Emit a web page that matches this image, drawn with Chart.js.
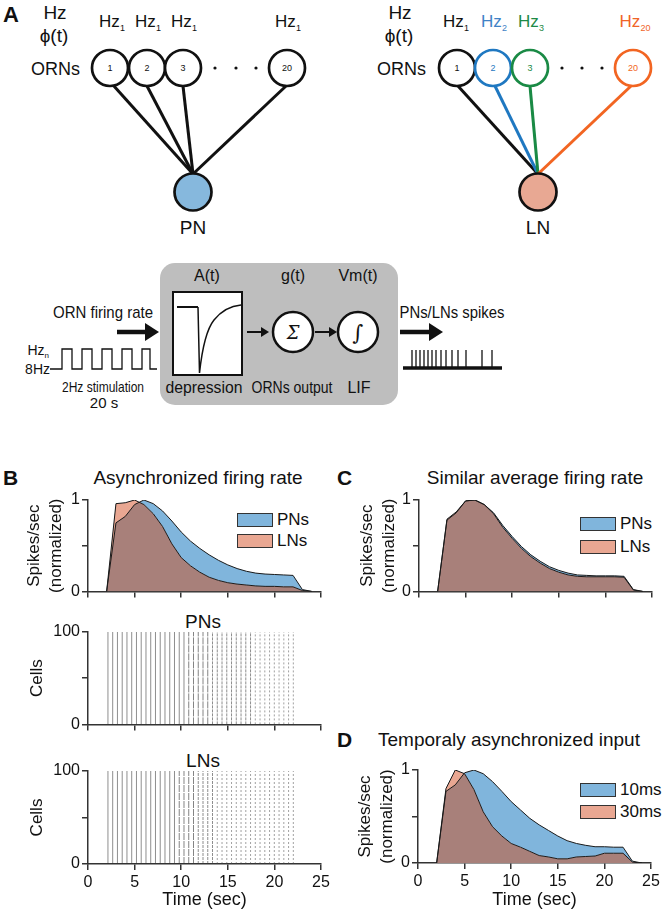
<!DOCTYPE html>
<html>
<head>
<meta charset="utf-8">
<script src="https://cdn.jsdelivr.net/npm/chart.js@4.4.1/dist/chart.umd.min.js"></script>
<style>
  body { margin: 0; background: #fff; }
  #page { position: relative; width: 666px; height: 916px; overflow: hidden; font-family: "Liberation Sans", Arial, sans-serif; color: #111; }
  .abs { position: absolute; white-space: nowrap; }
  .letter { font-weight: bold; font-size: 21px; }
  .ptitle { font-size: 19px; transform: translateX(-50%); }
  .leg { position: absolute; font-size: 17px; }
  .leg span.box { position: absolute; left: 0; width: 34px; height: 12px; border: 1px solid #333; }
  .leg span.lab { position: absolute; left: 40px; top: -3px; }
  canvas { position: absolute; }
</style>
</head>
<body>
<div id="page">

<!-- panel A : schematic -->
<svg width="666" height="415" style="position:absolute;left:0;top:0" font-family="Liberation Sans, Arial, sans-serif" fill="#111">
  <text x="3" y="22" font-size="22" font-weight="bold">A</text>
  <text x="55" y="19" font-size="19" text-anchor="middle">Hz</text>
  <text x="54" y="42" font-size="19" text-anchor="middle">ϕ(t)</text>
  <text x="80" y="75" font-size="18" text-anchor="end">ORNs</text>

  <text x="112" y="27" font-size="17" text-anchor="middle">Hz<tspan font-size="9" dy="4">1</tspan></text>
  <text x="148" y="27" font-size="17" text-anchor="middle">Hz<tspan font-size="9" dy="4">1</tspan></text>
  <text x="184" y="27" font-size="17" text-anchor="middle">Hz<tspan font-size="9" dy="4">1</tspan></text>
  <text x="288" y="27" font-size="17" text-anchor="middle">Hz<tspan font-size="9" dy="4">1</tspan></text>

  <g stroke="#111" stroke-width="3" fill="none">
    <line x1="113" y1="85" x2="193" y2="174"/>
    <line x1="147" y1="86" x2="193" y2="174"/>
    <line x1="183" y1="86" x2="193" y2="174"/>
    <line x1="286" y1="86" x2="193" y2="174"/>
  </g>
  <g stroke="#111" stroke-width="2.7" fill="#fff">
    <circle cx="110" cy="68" r="18"/>
    <circle cx="147" cy="68" r="18"/>
    <circle cx="183" cy="68" r="18"/>
    <circle cx="287" cy="68" r="18"/>
    <circle cx="193" cy="192" r="18.5" fill="#86b8dd"/>
  </g>
  <g font-size="9" text-anchor="middle">
    <text x="110" y="71">1</text><text x="147" y="71">2</text><text x="183" y="71">3</text><text x="287" y="71">20</text>
  </g>
  <circle cx="215" cy="68" r="1.6"/><circle cx="236" cy="68" r="1.6"/><circle cx="256" cy="68" r="1.6"/>
  <text x="193" y="234" font-size="19" text-anchor="middle">PN</text>

  <text x="400" y="19" font-size="19" text-anchor="middle">Hz</text>
  <text x="399" y="42" font-size="19" text-anchor="middle">ϕ(t)</text>
  <text x="426" y="75" font-size="18" text-anchor="end">ORNs</text>

  <text x="456" y="27" font-size="17" text-anchor="middle">Hz<tspan font-size="9" dy="4">1</tspan></text>
  <text x="494" y="27" font-size="17" text-anchor="middle" fill="#3f82c6">Hz<tspan font-size="9" dy="4">2</tspan></text>
  <text x="531" y="27" font-size="17" text-anchor="middle" fill="#1e8a46">Hz<tspan font-size="9" dy="4">3</tspan></text>
  <text x="635" y="27" font-size="17" text-anchor="middle" fill="#f06428">Hz<tspan font-size="9" dy="4">20</tspan></text>

  <g stroke-width="3" fill="none">
    <line x1="458" y1="86" x2="538" y2="174" stroke="#111"/>
    <line x1="495" y1="86" x2="538" y2="174" stroke="#1f78c1"/>
    <line x1="530" y1="86" x2="538" y2="174" stroke="#1a8a45"/>
    <line x1="631" y1="86" x2="538" y2="174" stroke="#f26522"/>
  </g>
  <g stroke-width="2.7" fill="#fff">
    <circle cx="457" cy="68" r="18" stroke="#111"/>
    <circle cx="493" cy="68" r="18" stroke="#1f78c1"/>
    <circle cx="530" cy="68" r="18" stroke="#1a8a45"/>
    <circle cx="633" cy="68" r="18" stroke="#f26522"/>
    <circle cx="538" cy="192" r="18.5" fill="#e8a893" stroke="#111"/>
  </g>
  <g font-size="9" text-anchor="middle">
    <text x="457" y="71">1</text>
    <text x="493" y="71" fill="#1f78c1">2</text>
    <text x="530" y="71" fill="#1a8a45">3</text>
    <text x="633" y="71" fill="#f26522">20</text>
  </g>
  <circle cx="562" cy="68" r="1.6"/><circle cx="582" cy="68" r="1.6"/><circle cx="602" cy="68" r="1.6"/>
  <text x="538" y="234" font-size="19" text-anchor="middle">LN</text>

  <!-- model box -->
  <rect x="160" y="263" width="238" height="142" rx="15" fill="#bebebe"/>
  <g font-size="16" text-anchor="middle">
    <text x="207" y="281">A(t)</text>
    <text x="293" y="281">g(t)</text>
    <text x="358" y="281">Vm(t)</text>
    <text x="204" y="393" textLength="77" lengthAdjust="spacingAndGlyphs">depression</text>
    <text x="292" y="393" textLength="81" lengthAdjust="spacingAndGlyphs">ORNs output</text>
    <text x="359" y="393">LIF</text>
  </g>
  <rect x="173" y="292" width="69" height="83" fill="#fff" stroke="#111" stroke-width="2"/>
  <path d="M177 307 L198 307" fill="none" stroke="#111" stroke-width="2"/>
  <path d="M198 307 L199.5 373 C202 350, 206 330, 214 320 C222 310, 230 306, 241 305" fill="none" stroke="#111" stroke-width="1.5"/>
  <g stroke="#111" stroke-width="2">
    <line x1="247" y1="332" x2="263" y2="332"/>
    <line x1="315" y1="332" x2="331" y2="332"/>
  </g>
  <polygon points="261,327 269,332 261,337"/>
  <polygon points="329,327 337,332 329,337"/>
  <circle cx="293" cy="332" r="20" fill="#fff" stroke="#111" stroke-width="2.5"/>
  <circle cx="358" cy="332" r="20" fill="#fff" stroke="#111" stroke-width="2.5"/>
  <text x="293" y="339" font-size="18" font-style="italic" font-family="DejaVu Serif" text-anchor="middle">Σ</text>
  <text x="358" y="340" font-size="21" font-family="DejaVu Serif" text-anchor="middle">∫</text>

  <!-- input side -->
  <text x="103" y="318" font-size="17" text-anchor="middle" textLength="100" lengthAdjust="spacingAndGlyphs">ORN firing rate</text>
  <line x1="117" y1="332" x2="148" y2="332" stroke="#111" stroke-width="4.5"/>
  <polygon points="145,323 159,332 145,341"/>
  <text x="49" y="355" font-size="14" text-anchor="end">Hz<tspan font-size="8" dy="3">n</tspan></text>
  <text x="50" y="374" font-size="14" text-anchor="end">8Hz</text>
  <path d="M50 369 H62 V349 H72 V369 H82 V349 H92 V369 H102 V349 H112 V369 H122 V349 H132 V369 H142 V349 H150 V369 H157" fill="none" stroke="#111" stroke-width="1.3"/>
  <text x="103" y="392" font-size="15" text-anchor="middle" textLength="82" lengthAdjust="spacingAndGlyphs">2Hz stimulation</text>
  <text x="104" y="408" font-size="15" text-anchor="middle">20 s</text>

  <!-- output side -->
  <text x="452" y="318" font-size="17" text-anchor="middle" textLength="105" lengthAdjust="spacingAndGlyphs">PNs/LNs spikes</text>
  <line x1="400" y1="332" x2="432" y2="332" stroke="#111" stroke-width="4.5"/>
  <polygon points="429,323 443,332 429,341"/>
  <line x1="403" y1="368" x2="502" y2="368" stroke="#111" stroke-width="3.5"/>
  <g stroke="#111" stroke-width="1.3">
    <line x1="412" y1="350" x2="412" y2="368"/><line x1="416" y1="350" x2="416" y2="368"/>
    <line x1="420" y1="350" x2="420" y2="368"/><line x1="424" y1="350" x2="424" y2="368"/>
    <line x1="428" y1="350" x2="428" y2="368"/><line x1="432" y1="350" x2="432" y2="368"/>
    <line x1="436" y1="350" x2="436" y2="368"/><line x1="441" y1="350" x2="441" y2="368"/>
    <line x1="446" y1="350" x2="446" y2="368"/><line x1="452" y1="350" x2="452" y2="368"/>
    <line x1="458" y1="350" x2="458" y2="368"/><line x1="466" y1="350" x2="466" y2="368"/>
    <line x1="482" y1="350" x2="482" y2="368"/><line x1="492" y1="350" x2="492" y2="368"/>
  </g>
</svg>

<!-- panel labels and titles -->
<div class="abs letter" style="left:3px;top:466px">B</div>
<div class="abs letter" style="left:337px;top:466px">C</div>
<div class="abs letter" style="left:337px;top:728px">D</div>
<div class="abs ptitle" style="left:198px;top:467px">Asynchronized firing rate</div>
<div class="abs ptitle" style="left:535px;top:467px">Similar average firing rate</div>
<div class="abs ptitle" style="left:509px;top:729px">Temporaly asynchronized input</div>
<div class="abs ptitle" style="left:203px;top:611px">PNs</div>
<div class="abs ptitle" style="left:203px;top:750px">LNs</div>

<div class="leg" style="left:237px;top:513px"><span class="box" style="background:#80b5dc"></span><span class="lab">PNs</span></div>
<div class="leg" style="left:237px;top:534px"><span class="box" style="background:#e9a792"></span><span class="lab">LNs</span></div>
<div class="leg" style="left:580px;top:517px"><span class="box" style="background:#80b5dc"></span><span class="lab">PNs</span></div>
<div class="leg" style="left:580px;top:540px"><span class="box" style="background:#e9a792"></span><span class="lab">LNs</span></div>
<div class="leg" style="left:580px;top:783px"><span class="box" style="background:#80b5dc"></span><span class="lab">10ms</span></div>
<div class="leg" style="left:580px;top:805px"><span class="box" style="background:#e9a792"></span><span class="lab">30ms</span></div>

</div>

<script>
// time points (sec) of the normalized firing-rate curves
const timeSec = [2, 3, 4, 5, 6, 7, 8, 9, 10, 11, 12, 13, 14, 15, 16, 17, 18, 19, 20, 21, 22, 23, 24];

// B - asynchronized firing rate
const rateB_PN = [0, 0.75, 0.82, 0.95, 1.0, 0.96, 0.88, 0.77, 0.65, 0.55, 0.47, 0.40, 0.34, 0.29, 0.25, 0.22, 0.20, 0.19, 0.185, 0.18, 0.175, 0.02, 0];
const rateB_LN = [0, 0.96, 0.97, 1.0, 0.95, 0.85, 0.71, 0.52, 0.37, 0.28, 0.21, 0.155, 0.12, 0.095, 0.08, 0.07, 0.06, 0.055, 0.055, 0.05, 0.05, 0.01, 0];

// C - similar average firing rate
const rateC_PN = [0, 0.78, 0.86, 0.99, 1.0, 0.95, 0.86, 0.72, 0.60, 0.49, 0.40, 0.33, 0.27, 0.23, 0.20, 0.18, 0.175, 0.17, 0.17, 0.17, 0.165, 0.02, 0];
const rateC_LN = [0, 0.79, 0.87, 0.99, 1.0, 0.95, 0.85, 0.70, 0.58, 0.47, 0.38, 0.31, 0.25, 0.21, 0.18, 0.165, 0.16, 0.16, 0.16, 0.16, 0.155, 0.015, 0];

// D - temporaly asynchronized input
const rateD_10ms = [0, 0.77, 0.84, 0.97, 1.0, 0.96, 0.875, 0.77, 0.66, 0.57, 0.48, 0.41, 0.35, 0.29, 0.24, 0.21, 0.19, 0.175, 0.175, 0.17, 0.17, 0.02, 0];
const rateD_30ms = [0, 0.80, 1.0, 0.96, 0.79, 0.55, 0.39, 0.29, 0.21, 0.17, 0.125, 0.08, 0.065, 0.045, 0.045, 0.065, 0.07, 0.075, 0.105, 0.105, 0.105, 0.01, 0];

// raster: population spike volleys (sec), one per stimulus pulse
const pulseTimes = [2.14, 2.65, 3.16, 3.67, 4.18, 4.69, 5.20, 5.71, 6.22, 6.73,
                    7.24, 7.75, 8.26, 8.77, 9.28, 9.79, 10.30, 10.81, 11.32, 11.83,
                    12.34, 12.85, 13.36, 13.87, 14.38, 14.89, 15.40, 15.91, 16.42, 16.93,
                    17.44, 17.95, 18.46, 18.97, 19.48, 19.99, 20.50, 21.01, 21.52, 22.03];
// how scattered each volley looks (0 = all cells together ... 3 = very scattered)
const pnJitter = [0,0,0,0,0,0,0,0,0,0, 0,0,0,0,0,0,0,1,1,1, 1,1,2,2,2,2,2,2,2,2, 2,3,3,3,3,3,3,3,3,3];
const lnJitter = [0,0,0,0,0,0,0,0,0,0, 0,0,0,0,0,1,1,1,1,2, 2,2,2,3,3,3,3,3,3,3, 3,3,3,3,3,3,3,3,3,3];

const cellRange = [0, 100];
const xTicks = [0, 5, 10, 15, 20, 25];

const BLUE = '#80b5dc', SALMON = '#e9a792', BROWN = '#a8807a', AXIS = '#333';
const FONT = '"Liberation Sans", Arial, sans-serif';

Chart.defaults.font.family = FONT;
Chart.defaults.color = '#111';

function place(id, box) {
  const c = document.createElement('canvas');
  c.id = id;
  c.width = box.w; c.height = box.h;
  c.style.left = box.left + 'px'; c.style.top = box.top + 'px';
  document.getElementById('page').appendChild(c);
  return c;
}

function xScale(showLabels, area, box) {
  return {
    type: 'linear', min: 0, max: 25,
    afterBuildTicks: s => { s.ticks = xTicks.map(v => ({ value: v })); },
    afterFit: s => { s.height = box.top + box.h - area.bottom; },
    ticks: { font: { size: 16 }, padding: 3, maxRotation: 0, color: '#111',
             callback: v => showLabels ? v : '' },
    grid: { drawOnChartArea: false, drawTicks: true, tickLength: 6, color: AXIS, lineWidth: 1.5 },
    border: { display: true, color: AXIS, width: 1.5 },
    title: { display: showLabels, text: 'Time (sec)', font: { size: 18, lineHeight: 1.1 }, padding: { top: 0, bottom: 3 }, color: '#111' }
  };
}

function yScale(max, titleText, size, area, box, pad) {
  return {
    type: 'linear', min: 0, max: max,
    afterBuildTicks: s => { s.ticks = [0, max / 2, max].map(v => ({ value: v })); },
    afterFit: s => { s.width = area.left - box.left; },
    ticks: { font: { size: 16 }, padding: 2, color: '#111',
             callback: v => (v === max / 2 ? '' : v) },
    grid: { drawOnChartArea: false, drawTicks: true, tickLength: 6, color: AXIS, lineWidth: 1.5 },
    border: { display: true, color: AXIS, width: 1.5 },
    title: { display: true, text: titleText, font: { size: size, lineHeight: 1.25 }, padding: { top: pad, bottom: 0 }, color: '#111' }
  };
}

function rateChart(id, box, area, top, bottom, showLabels) {
  const cv = place(id, box);
  const pts = arr => timeSec.map((t, i) => ({ x: t, y: arr[i] }));
  return new Chart(cv, {
    type: 'line',
    data: {
      datasets: [
        { data: pts(top), borderColor: '#1a1a1a', borderWidth: 1, pointRadius: 0, tension: 0,
          fill: { target: 1, above: BLUE, below: SALMON } },
        { data: pts(bottom), borderColor: '#1a1a1a', borderWidth: 1, pointRadius: 0, tension: 0,
          fill: 'origin', backgroundColor: BROWN }
      ]
    },
    options: {
      responsive: false, animation: false, devicePixelRatio: 1,
      layout: { padding: { left: 0, top: area.top - box.top, right: box.left + box.w - area.right, bottom: 0 } },
      plugins: { legend: { display: false }, tooltip: { enabled: false }, filler: { drawTime: 'beforeDatasetsDraw' } },
      scales: { x: xScale(showLabels, area, box), y: yScale(1, ['Spikes/sec', '(normalized)'], 17, area, box, 24) }
    }
  });
}

const jitterStyle = [
  { color: 'rgba(50,50,50,0.55)', dash: [] },
  { color: 'rgba(50,50,50,0.60)', dash: [7, 1] },
  { color: 'rgba(60,60,60,0.58)', dash: [3, 1] },
  { color: 'rgba(70,70,70,0.50)', dash: [2, 2] }
];

function rasterChart(id, box, area, jitter, showLabels) {
  const cv = place(id, box);
  const datasets = pulseTimes.map((t, i) => {
    const st = jitterStyle[jitter[i]];
    return { data: cellRange.map(c => ({ x: t, y: c })), showLine: true, pointRadius: 0,
             borderWidth: 1, borderColor: st.color, borderDash: st.dash };
  });
  return new Chart(cv, {
    type: 'scatter',
    data: { datasets },
    options: {
      responsive: false, animation: false, devicePixelRatio: 1,
      layout: { padding: { left: 0, top: area.top - box.top, right: box.left + box.w - area.right, bottom: 0 } },
      plugins: { legend: { display: false }, tooltip: { enabled: false } },
      scales: { x: xScale(showLabels, area, box), y: yScale(100, 'Cells', 17, area, box, 27) }
    }
  });
}

rateChart('rateB', { left: 0, top: 488, w: 333, h: 115 }, { left: 88, right: 321, top: 500, bottom: 593 }, rateB_PN, rateB_LN, false);
rateChart('rateC', { left: 333, top: 488, w: 333, h: 115 }, { left: 419, right: 652, top: 500, bottom: 593 }, rateC_PN, rateC_LN, false);
rateChart('rateD', { left: 331, top: 758, w: 335, h: 155 }, { left: 418, right: 651, top: 770, bottom: 863 }, rateD_10ms, rateD_30ms, true);
rasterChart('rasterPN', { left: 0, top: 620, w: 333, h: 116 }, { left: 88, right: 321, top: 632, bottom: 726 }, pnJitter, false);
rasterChart('rasterLN', { left: 0, top: 759, w: 333, h: 154 }, { left: 88, right: 321, top: 771, bottom: 864 }, lnJitter, true);
</script>
</body>
</html>
